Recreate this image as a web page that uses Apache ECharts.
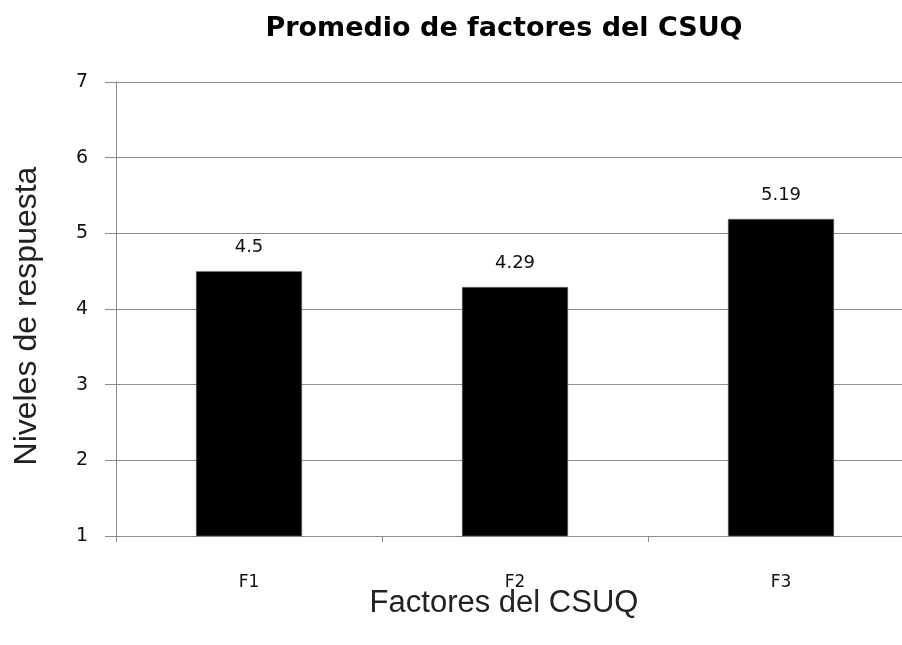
<!DOCTYPE html>
<html><head><meta charset="utf-8">
<script src="https://cdn.jsdelivr.net/npm/echarts@6/dist/echarts.min.js"></script>
<style>html,body{margin:0;padding:0;background:#fff;overflow:hidden}#c{width:914px;height:645px}</style>
</head><body><div id="c"></div>
<script>
const categories = ["F1", "F2", "F3"];
const values = [4.5, 4.29, 5.19];
const yTicks = [1, 2, 3, 4, 5, 6, 7];

const chart = echarts.init(document.getElementById('c'), null, {renderer: 'canvas'});
const grey = '#8c8c8c';
chart.setOption({
  animation: false,
  backgroundColor: '#fff',
  title: {
    text: 'Promedio de factores del CSUQ',
    left: 499, top: 10, textAlign: 'center',
    textStyle: {fontFamily: 'DejaVu Sans', fontWeight: 'bold', fontSize: 27, color: '#000'}
  },
  grid: {left: 116, right: 0, top: 82, bottom: 109, containLabel: false},
  xAxis: {
    type: 'category', data: categories,
    name: 'Factores del CSUQ', nameLocation: 'middle', nameGap: 52, nameMoveOverlap: false,
    nameTextStyle: {fontFamily: 'Liberation Sans', fontSize: 31, color: '#222', padding: [0, 22, 0, 0]},
    axisLine: {show: true, lineStyle: {color: grey, width: 1}},
    axisTick: {show: true, alignWithLabel: false, length: 6, lineStyle: {color: grey}},
    axisLabel: {margin: 38, fontFamily: 'DejaVu Sans', fontSize: 17, color: '#111'},
    splitLine: {show: false}
  },
  yAxis: {
    type: 'value', min: yTicks[0], max: yTicks[yTicks.length - 1], interval: 1,
    name: 'Niveles de respuesta', nameLocation: 'middle', nameGap: 73, nameRotate: 90, nameMoveOverlap: false,
    nameTextStyle: {fontFamily: 'Liberation Sans', fontSize: 32, color: '#222', padding: [0, 14, 0, 0]},
    axisLine: {show: true, lineStyle: {color: grey, width: 1}},
    axisTick: {show: true, length: 11, lineStyle: {color: grey}},
    axisLabel: {margin: 28, fontFamily: 'DejaVu Sans', fontSize: 19, color: '#111'},
    splitLine: {show: true, lineStyle: {color: grey, width: 1}}
  },
  series: [{
    type: 'bar', data: values, barWidth: 106,
    itemStyle: {color: '#000', borderColor: '#777', borderWidth: 0.5},
    label: {show: true, position: 'top', distance: 15,
      fontFamily: 'DejaVu Sans', fontSize: 18, color: '#111'}
  }]
});
</script></body></html>
